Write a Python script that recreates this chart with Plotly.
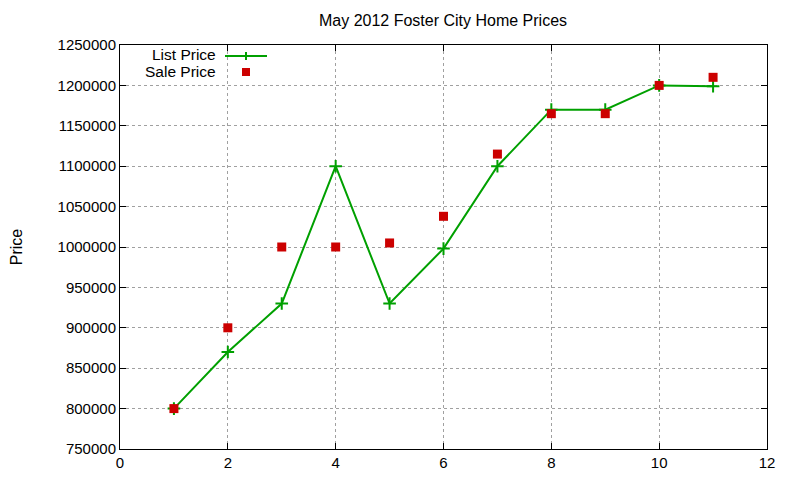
import plotly.graph_objects as go

# data
house = [1, 2, 3, 4, 5, 6, 7, 8, 9, 10, 11]
list_price = [800000, 870000, 930000, 1100000, 930000, 998000, 1100000, 1170000, 1170000, 1200000, 1199000]
sale_price = [800000, 900000, 1000000, 1000000, 1005000, 1038000, 1115000, 1165000, 1165000, 1200000, 1210000]

green = "#00a000"
red = "#cc0000"
font = "Liberation Sans, Arial, sans-serif"

fig = go.Figure()
fig.add_trace(go.Scatter(
    x=house, y=list_price, mode="lines+markers", name="List Price",
    line=dict(color=green, width=2),
    marker=dict(symbol="cross-thin", size=9, line=dict(color=green, width=2)),
))
fig.add_trace(go.Scatter(
    x=house, y=sale_price, mode="markers", name="Sale Price",
    marker=dict(symbol="square", size=9, color=red),
))

axis_common = dict(
    showline=True, linecolor="black", linewidth=1, mirror="ticks",
    ticks="inside", ticklen=6, tickcolor="black",
    showgrid=True, gridcolor="#a0a0a0", griddash="dot", gridwidth=1,
    zeroline=False, automargin=False,
    tickfont=dict(family=font, size=15, color="black"),
)
fig.update_xaxes(range=[0, 12], dtick=2, **axis_common)
fig.update_yaxes(range=[750000, 1250000], dtick=50000, tickformat="d",
                 title=dict(text="Price", font=dict(family=font, size=16, color="black"), standoff=30),
                 **axis_common)

# page has an 8px body margin, so the plot box is laid out relative to that
L, T, W, H = 112, 37, 647, 404

def px(x):
    return (x - 8 - L) / W

def py(y):
    return (T + H + 8 - y) / H

# gnuplot-style legend: text right-aligned, sample on the right
annotations = [
    dict(text="List Price", x=px(218), y=py(54), xanchor="right", yanchor="middle"),
    dict(text="Sale Price", x=px(218), y=py(72), xanchor="right", yanchor="middle"),
]
for a in annotations:
    a.update(xref="paper", yref="paper", showarrow=False, font=dict(family=font, size=15.5, color="black"))

shapes = [
    dict(type="line", x0=px(225), x1=px(267), y0=py(56), y1=py(56), line=dict(color=green, width=2)),
    dict(type="line", x0=px(246), x1=px(246), y0=py(52), y1=py(60), line=dict(color=green, width=2)),
    dict(type="rect", x0=px(242), x1=px(250), y0=py(68), y1=py(76), fillcolor=red, line=dict(width=0)),
]
for s in shapes:
    s.update(xref="paper", yref="paper")

fig.update_layout(
    width=800, height=480,
    margin=dict(l=L, r=800 - L - W, t=T, b=480 - T - H),
    paper_bgcolor="white", plot_bgcolor="white",
    showlegend=False,
    title=dict(text="May 2012 Foster City Home Prices", x=(443 - 8) / 800, xanchor="center",
               y=1 - (20 - 8) / 480, yanchor="middle",
               font=dict(family=font, size=16, color="black")),
    annotations=annotations, shapes=shapes,
)

fig.write_html("out.html")
